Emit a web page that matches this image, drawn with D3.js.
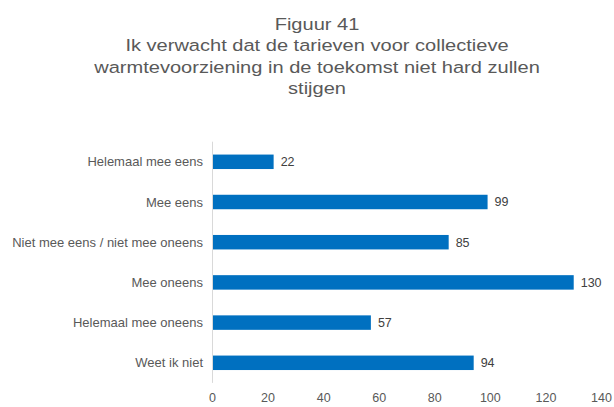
<!DOCTYPE html>
<html><head><meta charset="utf-8">
<script src="https://cdn.jsdelivr.net/npm/d3@7"></script>
<style>body{margin:0;background:#fff;}svg{display:block;font-family:"Liberation Sans",Arial,sans-serif;}</style>
</head><body><svg id="c" width="614" height="407"></svg>
<script>
const categories = ["Helemaal mee eens","Mee eens","Niet mee eens / niet mee oneens","Mee oneens","Helemaal mee oneens","Weet ik niet"];
const values = [22, 99, 85, 130, 57, 94];
const xTicks = [0,20,40,60,80,100,120,140];
const titleLines = ["Figuur 41","Ik verwacht dat de tarieven voor collectieve","warmtevoorziening in de toekomst niet hard zullen","stijgen"];

const svg = d3.select("#c");
const x = d3.scaleLinear().domain([0,140]).range([212.5,601.5]);
const y = d3.scaleBand().domain(categories).range([141.7,382.9]).paddingInner(0.64).paddingOuter(0.32);

svg.append("g").selectAll("text").data(titleLines).join("text")
  .attr("transform",(d,i)=>`translate(317,${29.5+i*21.6}) scale(1.18,1)`).attr("text-anchor","middle")
  .attr("font-size",17).attr("fill","#595959").text(d=>d);

svg.append("line").attr("x1",x(0)).attr("x2",x(0)).attr("y1",141.7).attr("y2",382.9)
  .attr("stroke","#d9d9d9").attr("stroke-width",1);

svg.append("g").selectAll("rect").data(values).join("rect")
  .attr("x",x(0)+0.5).attr("y",(d,i)=>y(categories[i]))
  .attr("width",d=>x(d)-x(0)-0.5).attr("height",y.bandwidth()).attr("fill","#0070C0");

svg.append("g").selectAll("text").data(values).join("text")
  .attr("x",d=>x(d)+7).attr("y",(d,i)=>y(categories[i])+y.bandwidth()/2).attr("dy","0.35em")
  .attr("font-size",12.5).attr("fill","#404040").text(d=>d);

svg.append("g").selectAll("text").data(categories).join("text")
  .attr("x",203).attr("y",d=>y(d)+y.bandwidth()/2).attr("dy","0.35em").attr("text-anchor","end")
  .attr("font-size",13).attr("fill","#595959").text(d=>d);

svg.append("g").selectAll("text").data(xTicks).join("text")
  .attr("x",d=>x(d)).attr("y",398).attr("dy","0.35em").attr("text-anchor","middle")
  .attr("font-size",12.5).attr("fill","#595959").text(d=>d);
</script></body></html>
